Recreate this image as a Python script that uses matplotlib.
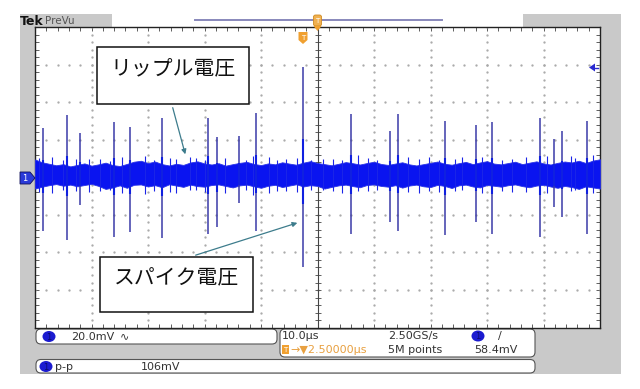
import numpy as np
import matplotlib.pyplot as plt
from matplotlib.patches import Rectangle, FancyBboxPatch, Polygon, Ellipse

#----------------------------------
# data (time in us, voltage in mV)
#----------------------------------

# spikes: position, top, bottom
spike_t = [-46.0, -41.9, -39.5, -33.5, -30.7, -25.1, -16.8, -15.3, -11.4, -8.4, 0.0,
           8.4, 15.3, 16.7, 25.1, 30.5, 33.4, 41.9, 44.4, 45.8, 50.2]
spike_hi = [26.1, 33.1, 23.7, 29.3, 26.9, 31.4, 31.7, 21.6, 22.0, 34.0, 58.8,
            33.5, 24.6, 33.5, 30.1, 27.8, 29.3, 31.7, 20.2, 24.6, 29.9]
spike_lo = [-28.4, -33.4, -14.7, -31.6, -28.9, -32.4, -30.2, -26.3, -13.8, -28.4, -47.9,
            -30.2, -23.6, -28.4, -30.7, -23.6, -30.2, -31.6, -15.6, -21.3, -30.2]

# ripple band envelope, every 1.25 us from -47.5 to 52.5
band_hi = [9.5, 8.0, 7.2, 6.4, 7.0, 5.8, 6.6, 7.4, 6.2, 6.9, 7.8, 6.5, 6.0, 7.1, 8.3, 8.8,
           7.6, 8.4, 7.0, 6.3, 7.2, 6.6, 7.9, 8.5, 7.4, 6.8, 7.5, 6.2, 7.0, 7.7, 8.2, 7.1,
           6.5, 7.4, 6.9, 8.0, 7.3, 6.7, 7.8, 8.6, 7.6, 7.0, 6.4, 7.2, 8.1, 7.5, 6.8, 7.6,
           8.3, 7.1, 6.6, 7.3, 8.0, 6.9, 6.3, 7.0, 7.7, 8.4, 7.2, 6.7, 7.5, 8.2, 7.0, 7.9,
           8.6, 7.3, 6.9, 7.6, 8.3, 7.0, 7.8, 8.5, 7.4, 6.8, 7.7, 8.4, 7.9, 8.8, 7.6, 8.9, 9.6]
band_lo = [-6.0, -5.0, -4.2, -3.6, -4.5, -3.9, -4.8, -4.1, -3.5, -4.6, -6.2, -5.4, -4.3,
           -5.6, -4.0, -3.8, -4.9, -4.2, -5.3, -3.7, -4.4, -5.1, -3.9, -4.7, -5.0, -4.1,
           -3.8, -4.6, -5.4, -4.3, -3.9, -4.8, -5.6, -4.5, -4.0, -5.2, -4.4, -3.7, -4.9,
           -4.2, -4.6, -6.0, -5.1, -4.3, -3.9, -4.7, -5.3, -4.1, -3.8, -4.6, -5.0, -4.2,
           -5.5, -4.4, -3.9, -4.8, -5.2, -4.0, -4.6, -5.7, -4.3, -3.9, -4.9, -5.4, -4.1,
           -4.5, -5.0, -4.2, -3.8, -4.7, -5.3, -4.4, -4.0, -4.9, -5.6, -4.6, -5.2, -6.2,
           -4.8, -5.4, -6.0]
band_t = np.linspace(-47.5, 52.5, len(band_hi))

# small ripple whiskers sticking out of the band
whisk_t = [-46.8, -44.5, -42.6, -40.3, -37.9, -36.0, -34.2, -32.1, -28.0, -26.4, -23.6,
           -22.5, -20.1, -19.0, -17.5, -13.9, -10.2, -9.0, -6.0, -4.6, -3.0, -1.2, 1.4,
           3.5, 5.2, 6.8, 9.6, 11.5, 13.1, 18.6, 20.4, 22.3, 24.0, 26.8, 28.0, 31.6, 35.2,
           37.0, 39.4, 43.1, 47.4, 48.1, 51.3]
whisk_hi = [10.5, 11.0, 9.0, 10.0, 9.5, 10.0, 8.8, 10.6, 11.5, 9.2, 10.1, 9.5, 10.8, 10.5,
            9.3, 10.2, 9.0, 11.6, 11.0, 9.4, 9.5, 10.4, 9.1, 10.0, 9.6, 9.0, 11.8, 10.5,
            9.2, 10.6, 9.5, 10.9, 9.4, 9.8, 11.0, 10.8, 9.3, 10.0, 10.6, 11.2, 11.5, 10.5, 12.0]
whisk_lo = [-8.0, -8.5, -6.8, -7.2, -7.8, -7.5, -6.9, -8.2, -9.0, -7.1, -7.9, -8.5, -7.0,
            -7.0, -7.6, -8.4, -6.8, -9.2, -8.5, -7.2, -7.5, -7.8, -6.9, -7.0, -7.4, -8.6,
            -7.3, -7.5, -7.0, -7.9, -8.5, -7.2, -7.6, -7.1, -7.0, -8.1, -7.4, -8.0, -7.7,
            -8.3, -7.5, -7.0, -8.2]

trig_level = 58.4

W, H = 640, 389
fig = plt.figure(figsize=(6.4, 3.89), dpi=100)

mono = ['Liberation Sans Narrow', 'DejaVu Sans']
jp = ['Noto Sans CJK JP', 'DejaVu Sans']


def px_axes(z):
    a = fig.add_axes([0, 0, 1, 1], zorder=z)
    a.set_xlim(0, W)
    a.set_ylim(H, 0)
    a.axis('off')
    a.patch.set_alpha(0)
    return a


#----------------------------------
# background panel and info boxes
#----------------------------------
bg = px_axes(0)
bg.add_patch(Rectangle((20, 14), 601, 360, fc='#c9c9c9', ec='none'))
bg.add_patch(Rectangle((112, 14), 411, 12.5, fc='white', ec='none'))
bg.plot([195, 442], [19.5, 19.5], color='#8888bb', lw=1.4)
bg.text(20, 21, 'Tek', fontsize=9, fontweight='bold', color='#111111', va='center', family=mono)
bg.text(45, 21, 'PreVu', fontsize=7.5, color='#555555', va='center', family=mono)


def info_box(x0, y0, x1, y1):
    bg.add_patch(FancyBboxPatch((x0, y0), x1 - x0, y1 - y0,
                                boxstyle='round,pad=0,rounding_size=5',
                                fc='white', ec='#555555', lw=0.8))


def badge(x, y):
    bg.add_patch(Ellipse((x, y), 13, 11, fc='#1b1bd0', ec='none'))
    bg.text(x, y + 0.5, '1', fontsize=6, color='#0b0b70', ha='center', va='center', family=mono)


info_box(36, 329, 277, 344)
badge(49, 336.5)
bg.text(71, 336.5, '20.0mV', fontsize=8, color='#333333', va='center', family=mono)
bg.text(120, 336.5, '∿', fontsize=8, color='#333333', va='center')

info_box(280, 329, 535, 357)
bg.text(282, 336, '10.0µs', fontsize=8, color='#333333', va='center', family=mono)
bg.text(388, 336, '2.50GS/s', fontsize=8, color='#333333', va='center', family=mono)
badge(478, 336)
bg.text(498, 336, '/', fontsize=8, color='#333333', va='center', family=mono)
bg.add_patch(Rectangle((282, 345), 7, 9, fc='#f0a030', ec='none'))
bg.text(285.5, 349.8, 'T', fontsize=5, color='white', ha='center', va='center', family=mono)
bg.text(290, 350, '→▼2.50000µs', fontsize=8, color='#e8a040', va='center', family=mono)
bg.text(388, 350, '5M points', fontsize=8, color='#333333', va='center', family=mono)
bg.text(474, 350, '58.4mV', fontsize=8, color='#333333', va='center', family=mono)

info_box(36, 359.5, 535, 373)
badge(46, 366.5)
bg.text(55, 366.5, 'p-p', fontsize=8, color='#333333', va='center', family=mono)
bg.text(141, 366.5, '106mV', fontsize=8, color='#333333', va='center', family=mono)

#----------------------------------
# graticule and trace
#----------------------------------
ax = fig.add_axes([35 / W, (H - 327.6) / H, 565 / W, 300.6 / H], zorder=1)
ax.set_xlim(-47.5, 52.5)
ax.set_ylim(-80, 80)
ax.set_facecolor('white')

xdiv = np.arange(-47.5, 52.6, 10)
ydiv = np.arange(-80, 81, 20)
for xv in xdiv[1:-1]:
    if abs(xv - 2.5) > 0.1:
        yy = np.arange(-80, 81, 4)
        ax.plot(np.full(len(yy), xv), yy, ls='none', marker='.', ms=1.3, color='#a8a8a8')
for yv in ydiv[1:-1]:
    if yv != 0:
        xx = np.arange(-47.5, 52.6, 2)
        ax.plot(xx, np.full(len(xx), yv), ls='none', marker='.', ms=1.3, color='#a8a8a8')

ax.axvline(2.5, color='#444444', lw=0.8)
ax.axhline(0, color='#444444', lw=0.8)
xx = np.arange(-47.5, 52.6, 2)
ax.plot(xx, np.zeros(len(xx)), ls='none', marker='|', ms=4, mew=0.6, color='#444444')
yy = np.arange(-80, 81, 4)
ax.plot(np.full(len(yy), 2.5), yy, ls='none', marker='_', ms=4, mew=0.6, color='#444444')

ax.set_xticks(np.arange(-47.5, 52.6, 2))
ax.set_yticks(np.arange(-80, 81, 4))
ax.tick_params(direction='in', length=3, width=0.6, color='#444444',
               top=True, right=True, labelbottom=False, labelleft=False)
for s in ax.spines.values():
    s.set_color('#222222')
    s.set_linewidth(1.0)

ax.fill_between(band_t, band_lo, band_hi, color='#0a14f0', lw=0.6, edgecolor='#2a34e8', zorder=3)
ax.vlines(whisk_t, whisk_lo, whisk_hi, color='#1a24e8', lw=0.8, zorder=3)
ax.vlines(spike_t, spike_lo, spike_hi, color='#3a3aa8', lw=1.1, zorder=4)
ax.vlines(spike_t, np.array(spike_lo) * 0.3, np.array(spike_hi) * 0.35, color='#1020e0', lw=1.5, zorder=4)

#----------------------------------
# markers and annotations
#----------------------------------
ov = px_axes(3)

# trigger position markers
ov.add_patch(FancyBboxPatch((313.5, 15), 8, 11, boxstyle='round,pad=0,rounding_size=2',
                            fc='#f0b050', ec='#d08a20', lw=0.6))
ov.text(317.5, 20.5, 'T', fontsize=5, color='white', ha='center', va='center', family=mono)
ov.add_patch(Polygon([[313.5, 26], [321.5, 26], [317.5, 31]], fc='#f0a030', ec='none'))
ov.add_patch(Polygon([[298.5, 32], [307.5, 32], [307.5, 40], [303, 44], [298.5, 40]],
                     fc='#f0a030', ec='none'))
ov.text(303, 37.5, 'T', fontsize=5, color='white', ha='center', va='center', family=mono)

# trigger level marker (right)
ty = 177.3 - trig_level / 20 * 37.6
ov.add_patch(Polygon([[589, ty], [595, ty - 4], [595, ty + 4]], fc='#2a2ad0', ec='none'))
ov.plot([595, 598], [ty, ty], color='#2a2ad0', lw=1)

# channel 1 ground marker (left)
ov.add_patch(Polygon([[20, 172], [30, 172], [35, 178], [30, 184], [20, 184]],
                     fc='#2a3ad8', ec='#10105a', lw=0.6))
ov.text(25, 178.3, '1', fontsize=6, color='white', ha='center', va='center', family=mono)

# annotation boxes
ov.add_patch(Rectangle((97, 47), 152, 57, fc='white', ec='#111111', lw=1.1))
ov.text(173, 68, 'リップル電圧', fontsize=15, color='#111111', ha='center', va='center', family=jp)
ov.annotate('', xy=(186, 157), xytext=(172, 105),
            arrowprops=dict(arrowstyle='-|>', color='#3d7c8c', lw=0.9, mutation_scale=7))

ov.add_patch(Rectangle((100, 257), 153, 55, fc='white', ec='#111111', lw=1.1))
ov.text(176.5, 278, 'スパイク電圧', fontsize=15, color='#111111', ha='center', va='center', family=jp)
ov.annotate('', xy=(300, 222), xytext=(193, 256),
            arrowprops=dict(arrowstyle='-|>', color='#3d7c8c', lw=0.9, mutation_scale=7))

fig.savefig('out.png', dpi=100, facecolor='white')
